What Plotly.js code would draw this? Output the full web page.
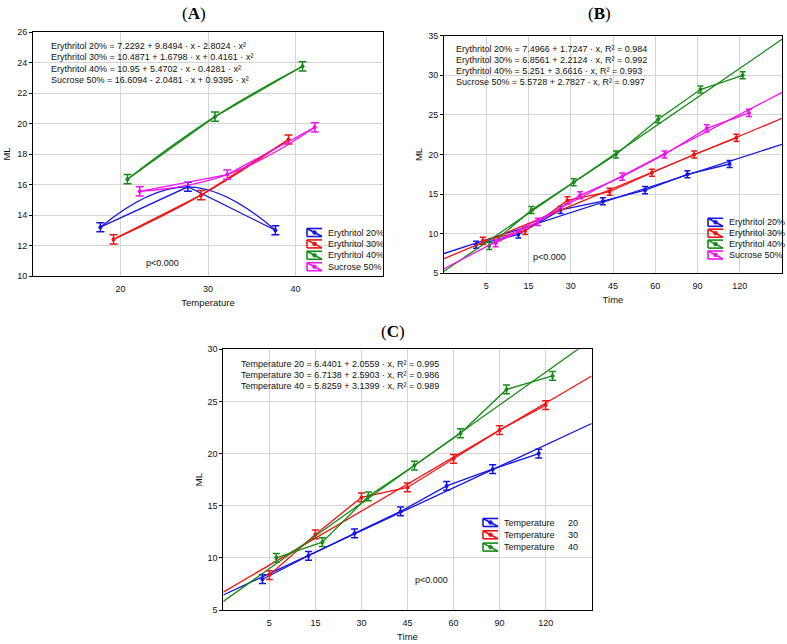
<!DOCTYPE html>
<html>
<head>
<meta charset="utf-8">
<script src="https://cdn.plot.ly/plotly-3.0.1.min.js"></script>
<style>
html, body { margin: 0; padding: 0; background: #fff; }
#chart { width: 787px; height: 644px; }
</style>
</head>
<body>
<div id="chart"></div>
<script>
// ---- panel A : ML against temperature (quadratic fits)
var tempCats = [20, 30, 40];
var namesA = ['Erythritol 20%', 'Erythritol 30%', 'Erythritol 40%', 'Sucrose 50%'];
var ery20A = [13.2, 15.85, 13.0];
var ery30A = [12.4, 15.3, 18.95];
var ery40A = [16.35, 20.45, 23.75];
var suc50A = [15.55, 16.65, 19.75];
var errA = 0.3;
var eqA = [
    'Erythritol 20% = 7.2292 + 9.8494 · x - 2.8024 · x²',
    'Erythritol 30% = 10.4871 + 1.6798 · x + 0.4161 · x²',
    'Erythritol 40% = 10.95 + 5.4702 · x - 0.4281 · x²',
    'Sucrose 50% = 16.6094 - 2.0481 · x + 0.9395 · x²'
];

// ---- panel B : ML against time for the sweeteners (linear fits)
var timeCats = ['5', '15', '30', '45', '60', '90', '120'];
var namesB = ['Erythritol 20%', 'Erythritol 30%', 'Erythritol 40%', 'Sucrose 50%'];
var ery20B = [8.6, 9.9, 13.0, 14.1, 15.5, 17.5, 18.8];
var ery30B = [9.1, 10.35, 14.2, 15.3, 17.7, 20.0, 22.1];
var ery40B = [8.45, 13.0, 16.5, 20.0, 24.45, 28.2, 30.0];
var suc50B = [8.8, 11.5, 14.85, 17.2, 20.0, 23.3, 25.25];
var errB = 0.45;
var fitB_a = [7.4966, 6.8561, 5.251, 5.5728];
var fitB_b = [1.7247, 2.2124, 3.6616, 2.7827];
var r2B = ['0.984', '0.992', '0.993', '0.997'];

// ---- panel C : ML against time for the temperatures (linear fits)
var namesC = ['Temperature 20', 'Temperature 30', 'Temperature 40'];
var temp20C = [7.95, 10.2, 12.35, 14.45, 16.9, 18.5, 20.0];
var temp30C = [8.35, 12.25, 15.8, 16.75, 19.5, 22.25, 24.65];
var temp40C = [10.0, 11.5, 15.9, 18.85, 21.95, 26.15, 27.45];
var errC = 0.42;
var fitC_a = [6.4401, 6.7138, 5.8259];
var fitC_b = [2.0559, 2.5903, 3.1399];
var r2C = ['0.995', '0.986', '0.989'];

var colors = ['#1414e6', '#f01414', '#168c16', '#f014f0'];
var W = 787, H = 644;
var FONT = 'Liberation Sans, Arial, sans-serif';

function px(x) { return x / W; }
function py(y) { return 1 - y / H; }

var traces = [];

function addSeries(xcats, offset, ys, err, color, capw, xa, ya, fitShape) {
    var xs = xcats.map(function (c) { return c + offset; });
    traces.push({
        x: xs, y: ys, xaxis: xa, yaxis: ya,
        type: 'scatter', mode: 'lines+markers', showlegend: false,
        line: {color: color, width: 1.3},
        marker: {color: color, size: 4},
        error_y: {type: 'constant', value: err, color: color, thickness: 1.5, width: capw}
    });
    if (fitShape) {
        traces.push({
            x: xs, y: ys, xaxis: xa, yaxis: ya,
            type: 'scatter', mode: 'lines', showlegend: false, hoverinfo: 'skip',
            line: {color: color, width: 1.3, shape: 'spline', smoothing: 1.3}
        });
    }
}

function addFitLine(a, b, color, xa, ya) {
    // straight regression line over the whole axis (x index 0..8)
    traces.push({
        x: [0, 8], y: [a, a + b * 8], xaxis: xa, yaxis: ya,
        type: 'scatter', mode: 'lines', showlegend: false, hoverinfo: 'skip',
        line: {color: color, width: 1.3}
    });
}

// panel A
var dataA = [ery20A, ery30A, ery40A, suc50A];
var offA = [-2.3, -0.8, 0.8, 2.2];
dataA.forEach(function (ys, i) {
    addSeries(tempCats, offA[i], ys, errA, colors[i], 4, 'x', 'y', true);
});

// panel B
var timeIdx = timeCats.map(function (t, i) { return i + 1; });
var dataB = [ery20B, ery30B, ery40B, suc50B];
var offB = [-0.24, -0.08, 0.07, 0.22];
dataB.forEach(function (ys, i) {
    addFitLine(fitB_a[i], fitB_b[i], colors[i], 'x2', 'y2');
    addSeries(timeIdx, offB[i], ys, errB, colors[i], 3, 'x2', 'y2', false);
});

// panel C
var dataC = [temp20C, temp30C, temp40C];
var offC = [-0.15, 0, 0.15];
dataC.forEach(function (ys, i) {
    addFitLine(fitC_a[i], fitC_b[i], colors[i], 'x3', 'y3');
    addSeries(timeIdx, offC[i], ys, errC, colors[i], 3.5, 'x3', 'y3', false);
});

var annotations = [];
var shapes = [];

function txt(x, y, text, opts) {
    opts = opts || {};
    annotations.push({
        xref: 'paper', yref: 'paper', x: px(x), y: py(y), text: text,
        showarrow: false, xanchor: opts.xanchor || 'left', yanchor: 'middle',
        font: {family: opts.family || FONT, size: opts.size || 9, color: opts.color || '#111'}
    });
}

function legendEntry(x0, yc, color, label) {
    var w = 15, h = 4;
    var segs = [
        [x0, yc - h, x0 + w, yc - h],
        [x0, yc + h, x0 + w, yc + h],
        [x0, yc - h, x0, yc + h],
        [x0, yc - h, x0 + w, yc + h]
    ];
    segs.forEach(function (s) {
        shapes.push({type: 'line', xref: 'paper', yref: 'paper',
            x0: px(s[0]), y0: py(s[1]), x1: px(s[2]), y1: py(s[3]),
            line: {color: color, width: 1.6}});
    });
    shapes.push({type: 'circle', xref: 'paper', yref: 'paper',
        x0: px(x0 + w / 2 - 1.8), y0: py(yc - 1.8), x1: px(x0 + w / 2 + 1.8), y1: py(yc + 1.8),
        fillcolor: color, line: {color: color, width: 1}});
    if (label) txt(x0 + 19, yc, label);
}

// panel titles
txt(194, 13, '(<b>A</b>)', {xanchor: 'center', size: 17, family: 'Liberation Serif, Times New Roman, serif', color: '#000'});
txt(599, 13, '(<b>B</b>)', {xanchor: 'center', size: 17, family: 'Liberation Serif, Times New Roman, serif', color: '#000'});
txt(393, 331, '(<b>C</b>)', {xanchor: 'center', size: 17, family: 'Liberation Serif, Times New Roman, serif', color: '#000'});

// equations
eqA.forEach(function (t, i) { txt(49, 46 + i * 11.3, t); });
namesB.forEach(function (n, i) {
    txt(454, 49 + i * 10.9, n + ' = ' + fitB_a[i] + ' + ' + fitB_b[i] + ' · x, R² = ' + r2B[i]);
});
namesC.forEach(function (n, i) {
    txt(239, 364 + i * 11.2, n + ' = ' + fitC_a[i] + ' + ' + fitC_b[i] + ' · x, R² = ' + r2C[i]);
});

txt(162, 263, 'p<0.000', {xanchor: 'center'});
txt(549, 257, 'p<0.000', {xanchor: 'center'});
txt(431, 580, 'p<0.000', {xanchor: 'center'});

// legends
namesA.forEach(function (n, i) { legendEntry(307, 232.5 + i * 11.4, colors[i], n); });
namesB.forEach(function (n, i) { legendEntry(708, 222.3 + i * 10.9, colors[i], n); });
namesC.forEach(function (n, i) {
    legendEntry(483, 522.5 + i * 12.3, colors[i], 'Temperature');
    txt(580, 522.5 + i * 12.3, n.split(' ')[1], {xanchor: 'right'});
});

function xAxis(domain, range, tickvals, ticktext, title, anchor) {
    return {
        domain: domain, range: range, anchor: anchor,
        tickvals: tickvals, ticktext: ticktext,
        showgrid: true, gridcolor: '#d4d4d4', gridwidth: 1,
        zeroline: false, showline: true, linecolor: '#000', linewidth: 1, mirror: true,
        ticks: '', ticklabelstandoff: 4,
        tickfont: {family: FONT, size: 9, color: '#111'},
        title: {text: title, font: {family: FONT, size: 9.5, color: '#111'}, standoff: 6}
    };
}
function yAxis(domain, range, dtick, anchor, standoff) {
    return {
        domain: domain, range: range, anchor: anchor, dtick: dtick, tick0: 0,
        showgrid: true, gridcolor: '#d4d4d4', gridwidth: 1,
        zeroline: false, showline: true, linecolor: '#000', linewidth: 1, mirror: true,
        ticks: 'outside', ticklen: 3, tickcolor: '#000',
        tickfont: {family: FONT, size: 9, color: '#111'},
        title: {text: 'ML', font: {family: FONT, size: 9.5, color: '#111'}, standoff: standoff}
    };
}

var layout = {
    width: W, height: H,
    margin: {l: 0, r: 0, t: 0, b: 0},
    paper_bgcolor: '#fff', plot_bgcolor: '#fff',
    showlegend: false,
    xaxis: xAxis([px(33), px(383)], [10, 50], tempCats, tempCats.map(String), 'Temperature', 'y'),
    yaxis: yAxis([py(276), py(32)], [10, 26], 2, 'x', 4),
    xaxis2: xAxis([px(444), px(782)], [0, 8], timeIdx, timeCats, 'Time', 'y2'),
    yaxis2: yAxis([py(273.3), py(35.7)], [5, 35], 5, 'x2', 3),
    xaxis3: xAxis([px(223.3), px(591.7)], [0, 8], timeIdx, timeCats, 'Time', 'y3'),
    yaxis3: yAxis([py(610), py(349.3)], [5, 30], 5, 'x3', 3),
    annotations: annotations,
    shapes: shapes
};

Plotly.newPlot('chart', traces, layout, {displayModeBar: false, staticPlot: true});
</script>
</body>
</html>
